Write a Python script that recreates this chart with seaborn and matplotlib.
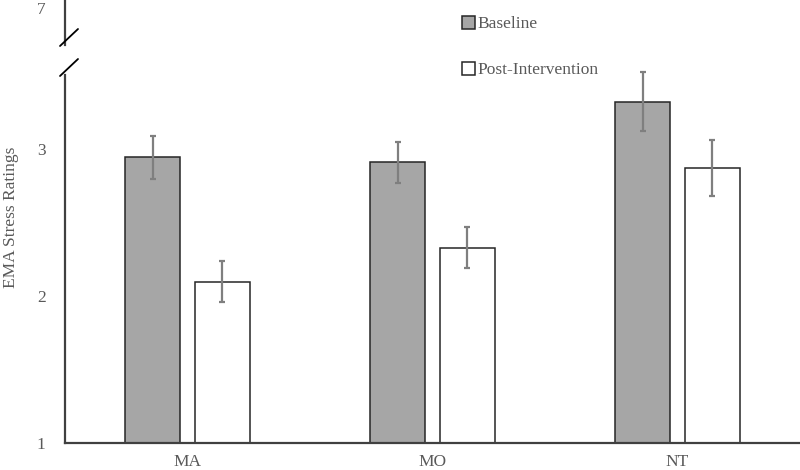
import matplotlib
matplotlib.use("Agg")
import matplotlib.pyplot as plt
from matplotlib.lines import Line2D
import seaborn as sns
import pandas as pd
import numpy as np

# Data
groups = ["MA", "MO", "NT"]
conditions = ["Baseline", "Post-Intervention"]
baseline_means = [2.94, 2.907, 3.318]
post_means = [2.093, 2.327, 2.867]
baseline_se = [0.145, 0.139, 0.20]
post_se = [0.139, 0.139, 0.188]
yticks_lower = [1, 2, 3]
ytick_upper = [7]

df = pd.DataFrame({
    "Group": groups * 2,
    "Condition": [conditions[0]] * 3 + [conditions[1]] * 3,
    "Mean": baseline_means + post_means,
    "SE": baseline_se + post_se,
})

sns.set_theme(style="white")
plt.rcParams["font.family"] = ["Liberation Serif", "DejaVu Serif"]
TXT = "#595959"
SPINE = "#404040"
FS = 12.5

W, H = 800, 470
fig = plt.figure(figsize=(8, 4.7), dpi=100)

def fx(px):
    return px / W

def fy(py):
    return 1 - py / H

left = 65
ax = fig.add_axes([fx(left), fy(442.7), 1 - fx(left), fy(75) - fy(442.7)])
ax_top = fig.add_axes([fx(left), fy(45), 1 - fx(left), fy(0) - fy(45)])

sns.barplot(data=df, x="Group", y="Mean", hue="Condition", order=groups,
            hue_order=conditions, palette=["#A6A6A6", "#FFFFFF"],
            edgecolor="#262626", linewidth=1.1, width=0.571, gap=0.214,
            errorbar=None, ax=ax, legend=True)

# Error bars from bar positions
for patch_list, cond in zip([ax.containers[0], ax.containers[1]], conditions):
    sub = df[df["Condition"] == cond].set_index("Group").loc[groups]
    xs = [p.get_x() + p.get_width() / 2 for p in patch_list]
    ax.errorbar(xs, sub["Mean"].values, yerr=sub["SE"].values, fmt="none",
                ecolor="#7F7F7F", elinewidth=1.6, capsize=2.5, capthick=1.6,
                clip_on=False, zorder=5)

ax.set_ylim(1, 3.5)
ax.set_xlim(-0.5, 2.5)
ax.set_yticks(yticks_lower)
ax.set_yticklabels([str(t) for t in yticks_lower])
ax.set_xlabel("")
ax.set_ylabel("")
for s in ["top", "right"]:
    ax.spines[s].set_visible(False)
for s in ["left", "bottom"]:
    ax.spines[s].set_color(SPINE)
    ax.spines[s].set_linewidth(1.6)
ax.tick_params(axis="y", length=0, pad=14, labelsize=FS, labelcolor=TXT)
ax.tick_params(axis="x", length=0, pad=8, labelsize=FS, labelcolor=TXT)

handles, labels = ax.get_legend_handles_labels()
ax.get_legend().remove()

# Top (broken) axis
ax_top.set_ylim(6.5, 7.108)
ax_top.set_xlim(0, 1)
ax_top.set_yticks(ytick_upper)
ax_top.set_yticklabels([str(t) for t in ytick_upper])
ax_top.set_xticks([])
for s in ["top", "right", "bottom"]:
    ax_top.spines[s].set_visible(False)
ax_top.spines["left"].set_color(SPINE)
ax_top.spines["left"].set_linewidth(1.6)
ax_top.tick_params(axis="y", length=0, pad=14, labelsize=FS, labelcolor=TXT)
ax_top.patch.set_alpha(0)

# Break marks
for (x0, y0, x1, y1) in [(60, 46, 78, 29), (60, 76, 78, 59)]:
    fig.add_artist(Line2D([fx(x0), fx(x1)], [fy(y0), fy(y1)], color="black",
                          linewidth=1.3, transform=fig.transFigure))

# Y label
fig.text(fx(11), fy(217), "EMA Stress Ratings", rotation=90, ha="center",
         va="center", fontsize=FS, color=TXT)

leg = fig.legend(handles, labels, loc="upper left",
                 bbox_to_anchor=(fx(462), fy(16)), bbox_transform=fig.transFigure,
                 frameon=False, fontsize=FS, handlelength=0.75, handleheight=0.75,
                 handletextpad=0.15, labelspacing=1.7, borderpad=0,
                 borderaxespad=0)
for t in leg.get_texts():
    t.set_color(TXT)

fig.savefig("out.png", dpi=100)
